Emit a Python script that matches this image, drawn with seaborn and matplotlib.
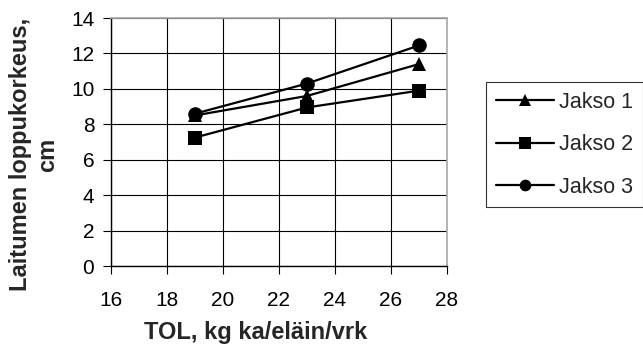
import matplotlib
matplotlib.use("Agg")
import matplotlib.pyplot as plt
import seaborn as sns
import pandas as pd

# Daily feed allowance (kg DM / animal / day) and final sward height (cm)
tol = [19, 23, 27]
jakso1 = [8.5, 9.6, 11.4]
jakso2 = [7.25, 8.95, 9.9]
jakso3 = [8.6, 10.3, 12.45]
series_names = ["Jakso 1", "Jakso 2", "Jakso 3"]
x_ticks = [16, 18, 20, 22, 24, 26, 28]
y_ticks = [0, 2, 4, 6, 8, 10, 12, 14]

df = pd.concat([
    pd.DataFrame({"TOL": tol, "Korkeus": vals, "Jakso": name})
    for name, vals in zip(series_names, [jakso1, jakso2, jakso3])
])

sns.set_theme(style="white")
plt.rcParams["font.family"] = ["Liberation Sans", "DejaVu Sans"]

fig = plt.figure(figsize=(6.43, 3.47), dpi=100)
ax = fig.add_axes([111 / 643, 1 - 266 / 347, (447 - 111) / 643, (266 - 18) / 347])

sns.lineplot(
    data=df, x="TOL", y="Korkeus", style="Jakso", hue="Jakso",
    palette=["black"] * 3, markers={"Jakso 1": "^", "Jakso 2": "s", "Jakso 3": "o"},
    dashes=False, markersize=10.5, markeredgewidth=0, linewidth=1.6,
    ax=ax, legend=True, zorder=3,
)

ax.set_xlim(16, 28)
ax.set_ylim(0, 14)
ax.set_xticks(x_ticks)
ax.set_yticks(y_ticks)
ax.grid(True, color="black", linewidth=0.8)
ax.set_axisbelow(True)
ax.tick_params(axis="both", direction="out", length=6, width=0.8,
               colors="black", labelsize=15, bottom=True, left=True)
ax.tick_params(axis="x", pad=12)
ax.tick_params(axis="y", pad=6)
for s in ["left", "bottom"]:
    ax.spines[s].set_color("black")
    ax.spines[s].set_linewidth(1.0)
for s in ["right", "top"]:
    ax.spines[s].set_color("#a8a8a8")
    ax.spines[s].set_linewidth(1.2)

ax.set_xlabel("TOL, kg ka/eläin/vrk", fontsize=17, fontweight="bold")
ax.set_ylabel("Laitumen loppukorkeus,\ncm", fontsize=17, fontweight="bold",
              linespacing=1.2)
ax.xaxis.set_label_coords(0.43, -0.22)
ax.yaxis.set_label_coords(-0.155, 0.45)

handles, labels = ax.get_legend_handles_labels()
ax.get_legend().remove()
leg = fig.legend(
    handles, labels, loc="upper left",
    bbox_to_anchor=(486 / 643, 1 - 82 / 347),
    fontsize=15.5, frameon=True, fancybox=False, edgecolor="black",
    handlelength=2.7, handletextpad=0.25, labelspacing=1.0,
    borderpad=0.45, borderaxespad=0, markerscale=0.8,
)
leg.get_frame().set_linewidth(0.8)

fig.savefig("out.png", dpi=100, facecolor="white")
